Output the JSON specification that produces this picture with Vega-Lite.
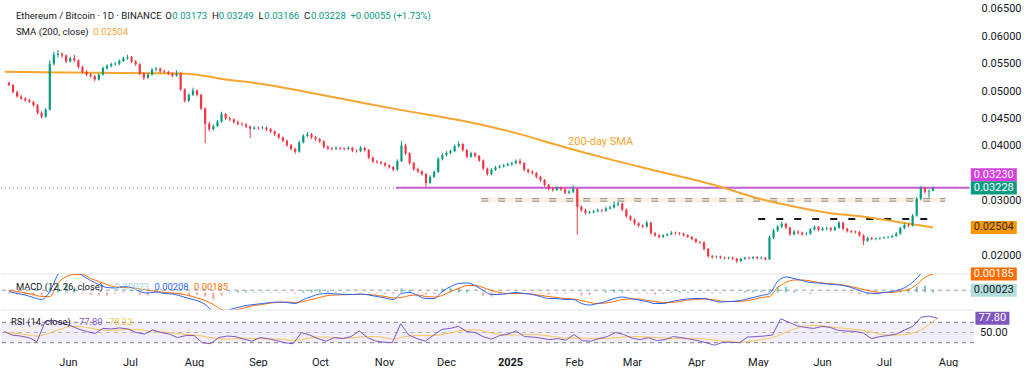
{
"$schema":"https://vega.github.io/schema/vega-lite/v6.json",
"background":"#ffffff",
"padding":0,
"spacing":0,
"bounds":"flush",
"config":{"view":{"stroke":null},"font":"Roboto"},
"datasets":{
"candles":[
{"t":"2024-05-01","o":0.0515,"h":0.0517,"l":0.0509,"c":0.0511},
{"t":"2024-05-03","o":0.0511,"h":0.0513,"l":0.0496,"c":0.0498},
{"t":"2024-05-05","o":0.0498,"h":0.0501,"l":0.0488,"c":0.049},
{"t":"2024-05-07","o":0.049,"h":0.0493,"l":0.0484,"c":0.0486},
{"t":"2024-05-09","o":0.0486,"h":0.0489,"l":0.048,"c":0.0483},
{"t":"2024-05-11","o":0.0483,"h":0.0486,"l":0.0478,"c":0.048},
{"t":"2024-05-13","o":0.048,"h":0.0482,"l":0.0471,"c":0.0474},
{"t":"2024-05-15","o":0.0474,"h":0.0476,"l":0.0457,"c":0.046},
{"t":"2024-05-17","o":0.046,"h":0.0463,"l":0.045,"c":0.0453},
{"t":"2024-05-19","o":0.0453,"h":0.0469,"l":0.0451,"c":0.0466},
{"t":"2024-05-21","o":0.0466,"h":0.0556,"l":0.0464,"c":0.055},
{"t":"2024-05-23","o":0.055,"h":0.0572,"l":0.0546,"c":0.0566},
{"t":"2024-05-25","o":0.0566,"h":0.0575,"l":0.0561,"c":0.0568},
{"t":"2024-05-27","o":0.0568,"h":0.0571,"l":0.056,"c":0.0565},
{"t":"2024-05-29","o":0.0565,"h":0.0567,"l":0.0551,"c":0.0554},
{"t":"2024-05-31","o":0.0554,"h":0.0563,"l":0.0552,"c":0.056},
{"t":"2024-06-02","o":0.056,"h":0.0566,"l":0.0553,"c":0.0556},
{"t":"2024-06-04","o":0.0556,"h":0.0558,"l":0.0541,"c":0.0544},
{"t":"2024-06-06","o":0.0544,"h":0.0546,"l":0.0532,"c":0.0535},
{"t":"2024-06-08","o":0.0535,"h":0.0538,"l":0.0527,"c":0.053},
{"t":"2024-06-10","o":0.053,"h":0.0533,"l":0.0524,"c":0.0527},
{"t":"2024-06-12","o":0.0527,"h":0.0529,"l":0.0518,"c":0.0521},
{"t":"2024-06-14","o":0.0521,"h":0.0532,"l":0.0519,"c":0.053},
{"t":"2024-06-16","o":0.053,"h":0.0545,"l":0.0528,"c":0.0542},
{"t":"2024-06-18","o":0.0542,"h":0.0549,"l":0.0539,"c":0.0546},
{"t":"2024-06-20","o":0.0546,"h":0.0552,"l":0.0543,"c":0.0549},
{"t":"2024-06-22","o":0.0549,"h":0.0553,"l":0.0546,"c":0.055},
{"t":"2024-06-24","o":0.055,"h":0.0558,"l":0.0547,"c":0.0555},
{"t":"2024-06-26","o":0.0555,"h":0.0563,"l":0.0553,"c":0.056},
{"t":"2024-06-28","o":0.056,"h":0.0566,"l":0.0557,"c":0.0562},
{"t":"2024-06-30","o":0.0562,"h":0.0564,"l":0.0551,"c":0.0554},
{"t":"2024-07-02","o":0.0554,"h":0.0557,"l":0.0546,"c":0.0549},
{"t":"2024-07-04","o":0.0549,"h":0.0551,"l":0.0529,"c":0.0532},
{"t":"2024-07-06","o":0.0532,"h":0.0534,"l":0.052,"c":0.0524},
{"t":"2024-07-08","o":0.0524,"h":0.0533,"l":0.0522,"c":0.053},
{"t":"2024-07-10","o":0.053,"h":0.0542,"l":0.0528,"c":0.0539},
{"t":"2024-07-12","o":0.0539,"h":0.0544,"l":0.0536,"c":0.0541},
{"t":"2024-07-14","o":0.0541,"h":0.0543,"l":0.0533,"c":0.0536},
{"t":"2024-07-16","o":0.0536,"h":0.0539,"l":0.0532,"c":0.0535},
{"t":"2024-07-18","o":0.0535,"h":0.0537,"l":0.0529,"c":0.0532},
{"t":"2024-07-20","o":0.0532,"h":0.0534,"l":0.0525,"c":0.0528},
{"t":"2024-07-22","o":0.0528,"h":0.0538,"l":0.0526,"c":0.0532},
{"t":"2024-07-24","o":0.0532,"h":0.0534,"l":0.05,"c":0.0503},
{"t":"2024-07-26","o":0.0503,"h":0.0505,"l":0.0479,"c":0.0482},
{"t":"2024-07-28","o":0.0482,"h":0.0496,"l":0.048,"c":0.0493},
{"t":"2024-07-30","o":0.0493,"h":0.0506,"l":0.0491,"c":0.0501},
{"t":"2024-08-01","o":0.0501,"h":0.0503,"l":0.049,"c":0.0493},
{"t":"2024-08-03","o":0.0493,"h":0.0495,"l":0.0465,"c":0.0468},
{"t":"2024-08-05","o":0.0468,"h":0.047,"l":0.0405,"c":0.044},
{"t":"2024-08-07","o":0.044,"h":0.0444,"l":0.0426,"c":0.043},
{"t":"2024-08-09","o":0.043,"h":0.0439,"l":0.0428,"c":0.0436},
{"t":"2024-08-11","o":0.0436,"h":0.0447,"l":0.0434,"c":0.0444},
{"t":"2024-08-13","o":0.0444,"h":0.0462,"l":0.0442,"c":0.0458},
{"t":"2024-08-15","o":0.0458,"h":0.046,"l":0.0447,"c":0.045},
{"t":"2024-08-17","o":0.045,"h":0.0453,"l":0.0445,"c":0.0448},
{"t":"2024-08-19","o":0.0448,"h":0.045,"l":0.044,"c":0.0443},
{"t":"2024-08-21","o":0.0443,"h":0.0446,"l":0.0437,"c":0.044},
{"t":"2024-08-23","o":0.044,"h":0.0443,"l":0.0436,"c":0.0439},
{"t":"2024-08-25","o":0.0439,"h":0.0441,"l":0.0432,"c":0.0435},
{"t":"2024-08-27","o":0.0435,"h":0.0437,"l":0.0414,"c":0.0431},
{"t":"2024-08-29","o":0.0431,"h":0.0436,"l":0.0429,"c":0.0433},
{"t":"2024-08-31","o":0.0433,"h":0.0435,"l":0.0429,"c":0.0432},
{"t":"2024-09-02","o":0.0432,"h":0.0436,"l":0.043,"c":0.0433},
{"t":"2024-09-04","o":0.0433,"h":0.0435,"l":0.0427,"c":0.043},
{"t":"2024-09-06","o":0.043,"h":0.0432,"l":0.0423,"c":0.0426},
{"t":"2024-09-08","o":0.0426,"h":0.0428,"l":0.0418,"c":0.0421},
{"t":"2024-09-10","o":0.0421,"h":0.0423,"l":0.0412,"c":0.0415},
{"t":"2024-09-12","o":0.0415,"h":0.0417,"l":0.0406,"c":0.0409},
{"t":"2024-09-14","o":0.0409,"h":0.0411,"l":0.0398,"c":0.0401},
{"t":"2024-09-16","o":0.0401,"h":0.0403,"l":0.0391,"c":0.0394},
{"t":"2024-09-18","o":0.0394,"h":0.0396,"l":0.0385,"c":0.0389},
{"t":"2024-09-20","o":0.0389,"h":0.0409,"l":0.0387,"c":0.0406},
{"t":"2024-09-22","o":0.0406,"h":0.0421,"l":0.0404,"c":0.0418},
{"t":"2024-09-24","o":0.0418,"h":0.0425,"l":0.0415,"c":0.0421},
{"t":"2024-09-26","o":0.0421,"h":0.0423,"l":0.0412,"c":0.0415},
{"t":"2024-09-28","o":0.0415,"h":0.0418,"l":0.0409,"c":0.0412},
{"t":"2024-09-30","o":0.0412,"h":0.0414,"l":0.0405,"c":0.0408},
{"t":"2024-10-02","o":0.0408,"h":0.041,"l":0.0395,"c":0.0398},
{"t":"2024-10-04","o":0.0398,"h":0.0401,"l":0.0392,"c":0.0395},
{"t":"2024-10-06","o":0.0395,"h":0.0398,"l":0.0391,"c":0.0394},
{"t":"2024-10-08","o":0.0394,"h":0.0399,"l":0.0392,"c":0.0396},
{"t":"2024-10-10","o":0.0396,"h":0.0398,"l":0.0392,"c":0.0395},
{"t":"2024-10-12","o":0.0395,"h":0.0397,"l":0.0391,"c":0.0394},
{"t":"2024-10-14","o":0.0394,"h":0.0399,"l":0.0392,"c":0.0396},
{"t":"2024-10-16","o":0.0396,"h":0.0398,"l":0.0388,"c":0.0391},
{"t":"2024-10-18","o":0.0391,"h":0.0393,"l":0.0387,"c":0.039},
{"t":"2024-10-20","o":0.039,"h":0.0399,"l":0.0388,"c":0.0396},
{"t":"2024-10-22","o":0.0396,"h":0.0398,"l":0.0389,"c":0.0392},
{"t":"2024-10-24","o":0.0392,"h":0.0394,"l":0.0375,"c":0.0378},
{"t":"2024-10-26","o":0.0378,"h":0.038,"l":0.0368,"c":0.0371},
{"t":"2024-10-28","o":0.0371,"h":0.0374,"l":0.0367,"c":0.037},
{"t":"2024-10-30","o":0.037,"h":0.0372,"l":0.0365,"c":0.0368},
{"t":"2024-11-01","o":0.0368,"h":0.037,"l":0.0361,"c":0.0364},
{"t":"2024-11-03","o":0.0364,"h":0.0366,"l":0.0358,"c":0.0361},
{"t":"2024-11-05","o":0.0361,"h":0.0363,"l":0.0353,"c":0.0356},
{"t":"2024-11-07","o":0.0356,"h":0.0375,"l":0.0354,"c":0.0372},
{"t":"2024-11-09","o":0.0372,"h":0.0409,"l":0.037,"c":0.04},
{"t":"2024-11-11","o":0.04,"h":0.0403,"l":0.0383,"c":0.0386},
{"t":"2024-11-13","o":0.0386,"h":0.0388,"l":0.0365,"c":0.0368},
{"t":"2024-11-15","o":0.0368,"h":0.037,"l":0.0354,"c":0.0357},
{"t":"2024-11-17","o":0.0357,"h":0.036,"l":0.035,"c":0.0353},
{"t":"2024-11-19","o":0.0353,"h":0.0355,"l":0.0345,"c":0.0348},
{"t":"2024-11-21","o":0.0348,"h":0.035,"l":0.0324,"c":0.0332},
{"t":"2024-11-23","o":0.0332,"h":0.0346,"l":0.033,"c":0.0343},
{"t":"2024-11-25","o":0.0343,"h":0.0355,"l":0.0341,"c":0.0352},
{"t":"2024-11-27","o":0.0352,"h":0.0379,"l":0.035,"c":0.0376},
{"t":"2024-11-29","o":0.0376,"h":0.0386,"l":0.0373,"c":0.0383},
{"t":"2024-12-01","o":0.0383,"h":0.039,"l":0.038,"c":0.0387},
{"t":"2024-12-03","o":0.0387,"h":0.0393,"l":0.0384,"c":0.039},
{"t":"2024-12-05","o":0.039,"h":0.0402,"l":0.0388,"c":0.0399},
{"t":"2024-12-07","o":0.0399,"h":0.0408,"l":0.0396,"c":0.0403},
{"t":"2024-12-09","o":0.0403,"h":0.0405,"l":0.0389,"c":0.0392},
{"t":"2024-12-11","o":0.0392,"h":0.0394,"l":0.0377,"c":0.038},
{"t":"2024-12-13","o":0.038,"h":0.0389,"l":0.0378,"c":0.0386},
{"t":"2024-12-15","o":0.0386,"h":0.0388,"l":0.0378,"c":0.0381},
{"t":"2024-12-17","o":0.0381,"h":0.0383,"l":0.037,"c":0.0373},
{"t":"2024-12-19","o":0.0373,"h":0.0375,"l":0.0355,"c":0.0358},
{"t":"2024-12-21","o":0.0358,"h":0.036,"l":0.0345,"c":0.0348},
{"t":"2024-12-23","o":0.0348,"h":0.0359,"l":0.0346,"c":0.0356},
{"t":"2024-12-25","o":0.0356,"h":0.0363,"l":0.0354,"c":0.036},
{"t":"2024-12-27","o":0.036,"h":0.0365,"l":0.0358,"c":0.0362},
{"t":"2024-12-29","o":0.0362,"h":0.0367,"l":0.036,"c":0.0364},
{"t":"2024-12-31","o":0.0364,"h":0.0369,"l":0.0362,"c":0.0366},
{"t":"2025-01-02","o":0.0366,"h":0.0371,"l":0.0363,"c":0.0368},
{"t":"2025-01-04","o":0.0368,"h":0.0375,"l":0.0366,"c":0.0372},
{"t":"2025-01-06","o":0.0372,"h":0.0376,"l":0.0365,"c":0.0368},
{"t":"2025-01-08","o":0.0368,"h":0.037,"l":0.0353,"c":0.0356},
{"t":"2025-01-10","o":0.0356,"h":0.0358,"l":0.0349,"c":0.0352},
{"t":"2025-01-12","o":0.0352,"h":0.0355,"l":0.0347,"c":0.035},
{"t":"2025-01-14","o":0.035,"h":0.0352,"l":0.034,"c":0.0343},
{"t":"2025-01-16","o":0.0343,"h":0.0345,"l":0.0334,"c":0.0337},
{"t":"2025-01-18","o":0.0337,"h":0.0339,"l":0.0325,"c":0.0328},
{"t":"2025-01-20","o":0.0328,"h":0.033,"l":0.0318,"c":0.0321},
{"t":"2025-01-22","o":0.0321,"h":0.0324,"l":0.0316,"c":0.0319},
{"t":"2025-01-24","o":0.0319,"h":0.0326,"l":0.0317,"c":0.0323},
{"t":"2025-01-26","o":0.0323,"h":0.0325,"l":0.0317,"c":0.032},
{"t":"2025-01-28","o":0.032,"h":0.0322,"l":0.0311,"c":0.0314},
{"t":"2025-01-30","o":0.0314,"h":0.0319,"l":0.0311,"c":0.0316},
{"t":"2025-02-01","o":0.0316,"h":0.0328,"l":0.0313,"c":0.0321},
{"t":"2025-02-03","o":0.0321,"h":0.0323,"l":0.0237,"c":0.0288},
{"t":"2025-02-05","o":0.0288,"h":0.0291,"l":0.0279,"c":0.0282},
{"t":"2025-02-07","o":0.0282,"h":0.0285,"l":0.0274,"c":0.0277},
{"t":"2025-02-09","o":0.0277,"h":0.0281,"l":0.0275,"c":0.0278},
{"t":"2025-02-11","o":0.0278,"h":0.0283,"l":0.0276,"c":0.028},
{"t":"2025-02-13","o":0.028,"h":0.0285,"l":0.0278,"c":0.0282},
{"t":"2025-02-15","o":0.0282,"h":0.0284,"l":0.0278,"c":0.0281},
{"t":"2025-02-17","o":0.0281,"h":0.0288,"l":0.0279,"c":0.0285},
{"t":"2025-02-19","o":0.0285,"h":0.029,"l":0.0283,"c":0.0287},
{"t":"2025-02-21","o":0.0287,"h":0.0298,"l":0.0285,"c":0.0292},
{"t":"2025-02-23","o":0.0292,"h":0.0297,"l":0.0289,"c":0.0294},
{"t":"2025-02-25","o":0.0294,"h":0.0296,"l":0.028,"c":0.0283},
{"t":"2025-02-27","o":0.0283,"h":0.0285,"l":0.0268,"c":0.0271},
{"t":"2025-03-01","o":0.0271,"h":0.0273,"l":0.0262,"c":0.0265},
{"t":"2025-03-03","o":0.0265,"h":0.0267,"l":0.0255,"c":0.0258},
{"t":"2025-03-05","o":0.0258,"h":0.026,"l":0.0251,"c":0.0254},
{"t":"2025-03-07","o":0.0254,"h":0.0256,"l":0.0249,"c":0.0252},
{"t":"2025-03-09","o":0.0252,"h":0.0263,"l":0.025,"c":0.0259},
{"t":"2025-03-11","o":0.0259,"h":0.0261,"l":0.0237,"c":0.024},
{"t":"2025-03-13","o":0.024,"h":0.0242,"l":0.0233,"c":0.0236},
{"t":"2025-03-15","o":0.0236,"h":0.0238,"l":0.023,"c":0.0233},
{"t":"2025-03-17","o":0.0233,"h":0.0238,"l":0.0231,"c":0.0236},
{"t":"2025-03-19","o":0.0236,"h":0.024,"l":0.0234,"c":0.0238},
{"t":"2025-03-21","o":0.0238,"h":0.0244,"l":0.0236,"c":0.0241},
{"t":"2025-03-23","o":0.0241,"h":0.0243,"l":0.0237,"c":0.024},
{"t":"2025-03-25","o":0.024,"h":0.0242,"l":0.0236,"c":0.0239},
{"t":"2025-03-27","o":0.0239,"h":0.0241,"l":0.0234,"c":0.0236},
{"t":"2025-03-29","o":0.0236,"h":0.0238,"l":0.0231,"c":0.0233},
{"t":"2025-03-31","o":0.0233,"h":0.0235,"l":0.0227,"c":0.0229},
{"t":"2025-04-02","o":0.0229,"h":0.0231,"l":0.0222,"c":0.0224},
{"t":"2025-04-04","o":0.0224,"h":0.0226,"l":0.022,"c":0.0223},
{"t":"2025-04-06","o":0.0223,"h":0.0225,"l":0.0208,"c":0.0211},
{"t":"2025-04-08","o":0.0211,"h":0.0213,"l":0.0195,"c":0.0198},
{"t":"2025-04-10","o":0.0198,"h":0.02,"l":0.0193,"c":0.0196},
{"t":"2025-04-12","o":0.0196,"h":0.0199,"l":0.0194,"c":0.0197},
{"t":"2025-04-14","o":0.0197,"h":0.0199,"l":0.0193,"c":0.0195},
{"t":"2025-04-16","o":0.0195,"h":0.0197,"l":0.0192,"c":0.0194},
{"t":"2025-04-18","o":0.0194,"h":0.0197,"l":0.0192,"c":0.0195},
{"t":"2025-04-20","o":0.0195,"h":0.0197,"l":0.0191,"c":0.0193},
{"t":"2025-04-22","o":0.0193,"h":0.0195,"l":0.0185,"c":0.0189},
{"t":"2025-04-24","o":0.0189,"h":0.0195,"l":0.0187,"c":0.0193},
{"t":"2025-04-26","o":0.0193,"h":0.0197,"l":0.0191,"c":0.0195},
{"t":"2025-04-28","o":0.0195,"h":0.0197,"l":0.0192,"c":0.0194},
{"t":"2025-04-30","o":0.0194,"h":0.0198,"l":0.0192,"c":0.0196},
{"t":"2025-05-02","o":0.0196,"h":0.0198,"l":0.0192,"c":0.0194},
{"t":"2025-05-04","o":0.0194,"h":0.0197,"l":0.0192,"c":0.0195},
{"t":"2025-05-06","o":0.0195,"h":0.0196,"l":0.019,"c":0.0192},
{"t":"2025-05-08","o":0.0192,"h":0.0235,"l":0.0191,"c":0.0232},
{"t":"2025-05-10","o":0.0232,"h":0.0248,"l":0.0229,"c":0.0245},
{"t":"2025-05-12","o":0.0245,"h":0.0255,"l":0.0242,"c":0.0252},
{"t":"2025-05-14","o":0.0252,"h":0.0261,"l":0.0249,"c":0.0257},
{"t":"2025-05-16","o":0.0257,"h":0.0259,"l":0.0247,"c":0.025},
{"t":"2025-05-18","o":0.025,"h":0.0252,"l":0.0235,"c":0.0238},
{"t":"2025-05-20","o":0.0238,"h":0.0246,"l":0.0236,"c":0.0243},
{"t":"2025-05-22","o":0.0243,"h":0.0245,"l":0.0238,"c":0.0241},
{"t":"2025-05-24","o":0.0241,"h":0.0243,"l":0.0235,"c":0.0238},
{"t":"2025-05-26","o":0.0238,"h":0.0242,"l":0.0236,"c":0.0239},
{"t":"2025-05-28","o":0.0239,"h":0.0249,"l":0.0237,"c":0.0247},
{"t":"2025-05-30","o":0.0247,"h":0.0254,"l":0.0245,"c":0.0251},
{"t":"2025-06-01","o":0.0251,"h":0.0253,"l":0.0243,"c":0.0246},
{"t":"2025-06-03","o":0.0246,"h":0.0251,"l":0.0244,"c":0.0248},
{"t":"2025-06-05","o":0.0248,"h":0.0252,"l":0.0245,"c":0.0249},
{"t":"2025-06-07","o":0.0249,"h":0.0251,"l":0.0243,"c":0.0246},
{"t":"2025-06-09","o":0.0246,"h":0.0253,"l":0.0244,"c":0.025},
{"t":"2025-06-11","o":0.025,"h":0.0262,"l":0.0248,"c":0.0259},
{"t":"2025-06-13","o":0.0259,"h":0.0261,"l":0.0245,"c":0.0248},
{"t":"2025-06-15","o":0.0248,"h":0.025,"l":0.0241,"c":0.0244},
{"t":"2025-06-17","o":0.0244,"h":0.0246,"l":0.024,"c":0.0243},
{"t":"2025-06-19","o":0.0243,"h":0.0245,"l":0.0239,"c":0.0242},
{"t":"2025-06-21","o":0.0242,"h":0.0244,"l":0.0233,"c":0.0236},
{"t":"2025-06-23","o":0.0236,"h":0.0238,"l":0.0218,"c":0.0226},
{"t":"2025-06-25","o":0.0226,"h":0.0234,"l":0.0224,"c":0.0231},
{"t":"2025-06-27","o":0.0231,"h":0.0233,"l":0.0227,"c":0.0229},
{"t":"2025-06-29","o":0.0229,"h":0.0232,"l":0.0227,"c":0.023},
{"t":"2025-07-01","o":0.023,"h":0.0233,"l":0.0228,"c":0.0231},
{"t":"2025-07-03","o":0.0231,"h":0.0234,"l":0.0229,"c":0.0232},
{"t":"2025-07-05","o":0.0232,"h":0.0235,"l":0.023,"c":0.0233},
{"t":"2025-07-07","o":0.0233,"h":0.0237,"l":0.0231,"c":0.0235},
{"t":"2025-07-09","o":0.0235,"h":0.0242,"l":0.0233,"c":0.0239},
{"t":"2025-07-11","o":0.0239,"h":0.0252,"l":0.0237,"c":0.0249},
{"t":"2025-07-13","o":0.0249,"h":0.0258,"l":0.0247,"c":0.0255},
{"t":"2025-07-15","o":0.0255,"h":0.0258,"l":0.0251,"c":0.0254},
{"t":"2025-07-17","o":0.0254,"h":0.0275,"l":0.0252,"c":0.0272},
{"t":"2025-07-19","o":0.0272,"h":0.0306,"l":0.027,"c":0.0303},
{"t":"2025-07-21","o":0.0303,"h":0.0326,"l":0.03,"c":0.0323},
{"t":"2025-07-23","o":0.0323,"h":0.0325,"l":0.0312,"c":0.0316},
{"t":"2025-07-25","o":0.0316,"h":0.032,"l":0.0305,"c":0.0317},
{"t":"2025-07-27","o":0.03173,"h":0.03249,"l":0.03166,"c":0.03228}
],
"sma":[
{"t":"2024-04-29","v":0.0535},{"t":"2024-05-28","v":0.0534},{"t":"2024-06-26","v":0.0533},{"t":"2024-07-25","v":0.0532},{"t":"2024-08-04","v":0.0528},{"t":"2024-08-12","v":0.0523},{"t":"2024-09-05","v":0.0511},{"t":"2024-09-21","v":0.05},{"t":"2024-10-16","v":0.0482},{"t":"2024-11-09","v":0.0465},{"t":"2024-12-07","v":0.0447},{"t":"2025-01-04","v":0.0423},{"t":"2025-01-27","v":0.0398},{"t":"2025-02-20","v":0.0374},{"t":"2025-03-16","v":0.0352},{"t":"2025-04-11","v":0.0328},{"t":"2025-05-05","v":0.0301},{"t":"2025-05-21","v":0.0288},{"t":"2025-06-06","v":0.0277},{"t":"2025-06-23","v":0.027},{"t":"2025-07-09","v":0.0261},{"t":"2025-07-27","v":0.02504}
],
"ind":[
{"t":"2024-05-01","m":0.0001,"s":0.0002,"h":-0.0001,"r":52,"rm":50},
{"t":"2024-05-05","m":-0.0001,"s":0.0001,"h":-0.0002,"r":45,"rm":49},
{"t":"2024-05-09","m":-0.00025,"s":-0.00005,"h":-0.0002,"r":43,"rm":47},
{"t":"2024-05-13","m":-0.0005,"s":-0.0002,"h":-0.0003,"r":40,"rm":45},
{"t":"2024-05-17","m":-0.0007,"s":-0.0004,"h":-0.0003,"r":32,"rm":43},
{"t":"2024-05-21","m":0.0001,"s":-0.0004,"h":0.0005,"r":72,"rm":46},
{"t":"2024-05-25","m":0.0018,"s":0.0009,"h":0.0009,"r":74,"rm":52},
{"t":"2024-05-29","m":0.0025,"s":0.0016,"h":0.0009,"r":68,"rm":57},
{"t":"2024-06-02","m":0.0023,"s":0.0018,"h":0.0005,"r":64,"rm":62},
{"t":"2024-06-06","m":0.0017,"s":0.0018,"h":-0.0001,"r":57,"rm":62},
{"t":"2024-06-10","m":0.0012,"s":0.0014,"h":-0.0002,"r":52,"rm":60},
{"t":"2024-06-14","m":0.0008,"s":0.0011,"h":-0.0003,"r":48,"rm":57},
{"t":"2024-06-18","m":0.0005,"s":0.0008,"h":-0.0003,"r":58,"rm":55},
{"t":"2024-06-22","m":0.00045,"s":0.00055,"h":-0.0001,"r":57,"rm":54},
{"t":"2024-06-26","m":0.0006,"s":0.0005,"h":0.0001,"r":59,"rm":55},
{"t":"2024-06-30","m":0.0005,"s":0.00048,"h":0.00002,"r":57,"rm":56},
{"t":"2024-07-04","m":0.0001,"s":0.00035,"h":-0.00025,"r":50,"rm":56},
{"t":"2024-07-08","m":-0.00005,"s":0.00025,"h":-0.0003,"r":47,"rm":54},
{"t":"2024-07-12","m":0.00005,"s":0.0001,"h":-0.00005,"r":55,"rm":52},
{"t":"2024-07-16","m":-0.0001,"s":0,"h":-0.0001,"r":50,"rm":51},
{"t":"2024-07-20","m":-0.00015,"s":-0.00005,"h":-0.0001,"r":47,"rm":50},
{"t":"2024-07-24","m":-0.00035,"s":-0.00015,"h":-0.0002,"r":40,"rm":48},
{"t":"2024-07-28","m":-0.0006,"s":-0.0003,"h":-0.0003,"r":44,"rm":46},
{"t":"2024-08-01","m":-0.0008,"s":-0.00055,"h":-0.00025,"r":44,"rm":45},
{"t":"2024-08-05","m":-0.0012,"s":-0.0008,"h":-0.0004,"r":30,"rm":43},
{"t":"2024-08-09","m":-0.0019,"s":-0.0012,"h":-0.0007,"r":28,"rm":40},
{"t":"2024-08-13","m":-0.002,"s":-0.0017,"h":-0.0003,"r":40,"rm":38},
{"t":"2024-08-17","m":-0.0017,"s":-0.0018,"h":0.0001,"r":43,"rm":37},
{"t":"2024-08-21","m":-0.0015,"s":-0.0017,"h":0.0002,"r":42,"rm":38},
{"t":"2024-08-25","m":-0.0013,"s":-0.0015,"h":0.0002,"r":37,"rm":39},
{"t":"2024-08-29","m":-0.0012,"s":-0.0013,"h":0.0001,"r":33,"rm":38},
{"t":"2024-09-02","m":-0.0011,"s":-0.0012,"h":0.0001,"r":40,"rm":38},
{"t":"2024-09-06","m":-0.001,"s":-0.00105,"h":0.00005,"r":38,"rm":37},
{"t":"2024-09-10","m":-0.00095,"s":-0.001,"h":0.00005,"r":34,"rm":37},
{"t":"2024-09-14","m":-0.001,"s":-0.00095,"h":-0.00005,"r":30,"rm":36},
{"t":"2024-09-18","m":-0.0011,"s":-0.001,"h":-0.0001,"r":28,"rm":34},
{"t":"2024-09-22","m":-0.0007,"s":-0.0009,"h":0.0002,"r":50,"rm":36},
{"t":"2024-09-26","m":-0.0004,"s":-0.0007,"h":0.0003,"r":45,"rm":39},
{"t":"2024-09-30","m":-0.00015,"s":-0.0005,"h":0.00035,"r":38,"rm":41},
{"t":"2024-10-04","m":-0.0001,"s":-0.0003,"h":0.0002,"r":33,"rm":41},
{"t":"2024-10-08","m":-0.00015,"s":-0.00025,"h":0.0001,"r":40,"rm":40},
{"t":"2024-10-12","m":-0.00018,"s":-0.00022,"h":0.00004,"r":38,"rm":39},
{"t":"2024-10-16","m":-0.0002,"s":-0.0002,"h":0,"r":42,"rm":39},
{"t":"2024-10-20","m":-0.00015,"s":-0.0002,"h":0.00005,"r":53,"rm":41},
{"t":"2024-10-24","m":-0.00025,"s":-0.0002,"h":-0.00005,"r":40,"rm":42},
{"t":"2024-10-28","m":-0.0004,"s":-0.0003,"h":-0.0001,"r":33,"rm":42},
{"t":"2024-11-01","m":-0.00055,"s":-0.0004,"h":-0.00015,"r":31,"rm":40},
{"t":"2024-11-05","m":-0.0007,"s":-0.00055,"h":-0.00015,"r":30,"rm":37},
{"t":"2024-11-09","m":-0.0001,"s":-0.0005,"h":0.0004,"r":67,"rm":40},
{"t":"2024-11-13","m":0,"s":-0.0003,"h":0.0003,"r":45,"rm":43},
{"t":"2024-11-17","m":-0.0003,"s":-0.00025,"h":-0.00005,"r":38,"rm":44},
{"t":"2024-11-21","m":-0.0006,"s":-0.0004,"h":-0.0002,"r":33,"rm":44},
{"t":"2024-11-25","m":-0.0006,"s":-0.00045,"h":-0.00015,"r":45,"rm":44},
{"t":"2024-11-29","m":0.0001,"s":-0.0003,"h":0.0004,"r":56,"rm":46},
{"t":"2024-12-03","m":0.0006,"s":0.0001,"h":0.0005,"r":58,"rm":49},
{"t":"2024-12-07","m":0.0009,"s":0.0004,"h":0.0005,"r":62,"rm":53},
{"t":"2024-12-11","m":0.00095,"s":0.0007,"h":0.00025,"r":52,"rm":55},
{"t":"2024-12-15","m":0.0007,"s":0.0007,"h":0,"r":50,"rm":55},
{"t":"2024-12-19","m":0.0002,"s":0.0005,"h":-0.0003,"r":42,"rm":53},
{"t":"2024-12-23","m":-0.0002,"s":0.0002,"h":-0.0004,"r":37,"rm":49},
{"t":"2024-12-27","m":-0.0002,"s":0,"h":-0.0002,"r":44,"rm":46},
{"t":"2024-12-31","m":-0.0001,"s":-0.0001,"h":0,"r":47,"rm":45},
{"t":"2025-01-04","m":0,"s":-0.0001,"h":0.0001,"r":53,"rm":45},
{"t":"2025-01-08","m":-0.0001,"s":-0.0001,"h":0,"r":42,"rm":46},
{"t":"2025-01-12","m":-0.0002,"s":-0.00015,"h":-0.00005,"r":41,"rm":46},
{"t":"2025-01-16","m":-0.0004,"s":-0.0003,"h":-0.0001,"r":39,"rm":45},
{"t":"2025-01-20","m":-0.0006,"s":-0.0004,"h":-0.0002,"r":36,"rm":43},
{"t":"2025-01-24","m":-0.0006,"s":-0.0005,"h":-0.0001,"r":38,"rm":41},
{"t":"2025-01-28","m":-0.0007,"s":-0.0006,"h":-0.0001,"r":35,"rm":39},
{"t":"2025-02-01","m":-0.0007,"s":-0.00065,"h":-0.00005,"r":46,"rm":39},
{"t":"2025-02-05","m":-0.0011,"s":-0.0008,"h":-0.0003,"r":34,"rm":39},
{"t":"2025-02-09","m":-0.00125,"s":-0.001,"h":-0.00025,"r":33,"rm":38},
{"t":"2025-02-13","m":-0.0011,"s":-0.0011,"h":0,"r":38,"rm":38},
{"t":"2025-02-17","m":-0.0009,"s":-0.00105,"h":0.00015,"r":42,"rm":38},
{"t":"2025-02-21","m":-0.0006,"s":-0.0009,"h":0.0003,"r":50,"rm":40},
{"t":"2025-02-25","m":-0.00045,"s":-0.0007,"h":0.00025,"r":46,"rm":41},
{"t":"2025-03-01","m":-0.0006,"s":-0.00065,"h":0.00005,"r":39,"rm":42},
{"t":"2025-03-05","m":-0.00075,"s":-0.00065,"h":-0.0001,"r":36,"rm":42},
{"t":"2025-03-09","m":-0.0009,"s":-0.0008,"h":-0.0001,"r":40,"rm":41},
{"t":"2025-03-13","m":-0.0011,"s":-0.0009,"h":-0.0002,"r":34,"rm":40},
{"t":"2025-03-17","m":-0.0011,"s":-0.001,"h":-0.0001,"r":36,"rm":39},
{"t":"2025-03-21","m":-0.0009,"s":-0.001,"h":0.0001,"r":42,"rm":38},
{"t":"2025-03-25","m":-0.00075,"s":-0.0009,"h":0.00015,"r":40,"rm":38},
{"t":"2025-03-29","m":-0.00065,"s":-0.00075,"h":0.0001,"r":37,"rm":38},
{"t":"2025-04-02","m":-0.0006,"s":-0.0007,"h":0.0001,"r":34,"rm":38},
{"t":"2025-04-06","m":-0.0006,"s":-0.00065,"h":0.00005,"r":30,"rm":37},
{"t":"2025-04-10","m":-0.0008,"s":-0.0007,"h":-0.0001,"r":25,"rm":35},
{"t":"2025-04-14","m":-0.00095,"s":-0.00085,"h":-0.0001,"r":31,"rm":33},
{"t":"2025-04-18","m":-0.0009,"s":-0.0009,"h":0,"r":31,"rm":32},
{"t":"2025-04-22","m":-0.00085,"s":-0.0009,"h":0.00005,"r":30,"rm":31},
{"t":"2025-04-26","m":-0.0007,"s":-0.00085,"h":0.00015,"r":41,"rm":32},
{"t":"2025-04-30","m":-0.0005,"s":-0.0007,"h":0.0002,"r":42,"rm":34},
{"t":"2025-05-04","m":-0.0003,"s":-0.0005,"h":0.0002,"r":43,"rm":37},
{"t":"2025-05-08","m":-0.0001,"s":-0.0004,"h":0.0003,"r":45,"rm":40},
{"t":"2025-05-12","m":0.0011,"s":0.0005,"h":0.0006,"r":77,"rm":46},
{"t":"2025-05-16","m":0.00155,"s":0.001,"h":0.00055,"r":70,"rm":53},
{"t":"2025-05-20","m":0.0014,"s":0.00125,"h":0.00015,"r":63,"rm":59},
{"t":"2025-05-24","m":0.0012,"s":0.00125,"h":-0.00005,"r":60,"rm":63},
{"t":"2025-05-28","m":0.001,"s":0.00115,"h":-0.00015,"r":58,"rm":64},
{"t":"2025-06-01","m":0.00095,"s":0.001,"h":-0.00005,"r":62,"rm":63},
{"t":"2025-06-05","m":0.00085,"s":0.0009,"h":-0.00005,"r":60,"rm":61},
{"t":"2025-06-09","m":0.0008,"s":0.00085,"h":-0.00005,"r":54,"rm":59},
{"t":"2025-06-13","m":0.0007,"s":0.00075,"h":-0.00005,"r":53,"rm":58},
{"t":"2025-06-17","m":0.0005,"s":0.0006,"h":-0.0001,"r":52,"rm":56},
{"t":"2025-06-21","m":0.0002,"s":0.0004,"h":-0.0002,"r":49,"rm":54},
{"t":"2025-06-25","m":-0.00005,"s":0.0002,"h":-0.00025,"r":38,"rm":51},
{"t":"2025-06-29","m":-0.0001,"s":0.00005,"h":-0.00015,"r":42,"rm":47},
{"t":"2025-07-03","m":0,"s":0,"h":0,"r":44,"rm":45},
{"t":"2025-07-07","m":0.0001,"s":0,"h":0.0001,"r":47,"rm":45},
{"t":"2025-07-11","m":0.0003,"s":0.00015,"h":0.00015,"r":55,"rm":46},
{"t":"2025-07-15","m":0.0007,"s":0.0003,"h":0.0004,"r":62,"rm":49},
{"t":"2025-07-19","m":0.0014,"s":0.0008,"h":0.0006,"r":80,"rm":55},
{"t":"2025-07-23","m":0.0022,"s":0.0015,"h":0.0007,"r":82,"rm":66},
{"t":"2025-07-27","m":0.00208,"s":0.00185,"h":0.00023,"r":77.8,"rm":78.23}
]
},
"vconcat":[
{
"width":973,"height":274,
"resolve":{"axis":{"y":"independent"}},
"layer":[
{"data":{"values":[{}]},"mark":{"type":"rect","color":"#fdf0df"},
 "encoding":{
  "x":{"datum":{"year":2024,"month":12,"date":18},"type":"temporal","scale":{"domain":[{"year":2024,"month":4,"date":29,"hours":14},{"year":2025,"month":8,"date":13,"hours":14}]},"axis":null},
  "x2":{"datum":{"year":2025,"month":8,"date":2}},
  "y":{"datum":0.0305,"type":"quantitative","scale":{"domain":[0.016527,0.066646],"nice":false,"zero":false},"axis":{"orient":"right","values":[0.02,0.03,0.04,0.045,0.05,0.055,0.06,0.065],"format":".5f","domain":false,"ticks":false,"grid":false,"labelPadding":7,"labelFontSize":11,"labelColor":"#131722","labelFont":"Roboto","labelOverlap":false,"labelFlush":false,"labelBound":false,"labelSeparation":0,"title":null}},
  "y2":{"datum":0.0296}}},
{"data":{"values":[{}]},"mark":{"type":"rule","color":"#9a9a9a","strokeWidth":1.3,"strokeDash":[7,10]},
 "encoding":{"x":{"datum":{"year":2024,"month":12,"date":18},"type":"temporal","axis":null},"x2":{"datum":{"year":2025,"month":8,"date":2}},"y":{"datum":0.0303,"type":"quantitative","axis":null}}},
{"data":{"values":[{}]},"mark":{"type":"rule","color":"#9a9a9a","strokeWidth":1.3,"strokeDash":[7,10]},
 "encoding":{"x":{"datum":{"year":2024,"month":12,"date":18},"type":"temporal","axis":null},"x2":{"datum":{"year":2025,"month":8,"date":2}},"y":{"datum":0.02985,"type":"quantitative","axis":null}}},
{"data":{"values":[{}]},"mark":{"type":"rule","color":"#131722","strokeWidth":2,"strokeDash":[7,11]},
 "encoding":{"x":{"datum":{"year":2025,"month":5,"date":2,"hours":12},"type":"temporal","axis":null},"x2":{"datum":{"year":2025,"month":7,"date":24,"hours":19}},"y":{"datum":0.0266,"type":"quantitative","axis":null}}},
{"data":{"values":[{}]},"mark":{"type":"rule","color":"#6f8f8c","strokeWidth":1,"strokeDash":[1,3]},
 "encoding":{"y":{"datum":0.03228,"type":"quantitative","axis":null}}},
{"data":{"values":[{}]},"mark":{"type":"rule","color":"#c45ecf","strokeWidth":2},
 "encoding":{"x":{"datum":{"year":2024,"month":11,"date":6,"hours":7},"type":"temporal","axis":null},"x2":{"datum":{"year":2025,"month":8,"date":13,"hours":14}},"y":{"datum":0.0323,"type":"quantitative","axis":null}}},
{"data":{"name":"sma"},"mark":{"type":"line","color":"#f5a530","strokeWidth":2,"clip":true,"interpolate":"monotone"},
 "encoding":{"x":{"field":"t","type":"temporal","axis":null},"y":{"field":"v","type":"quantitative","axis":null}}},
{"data":{"name":"candles"},"mark":{"type":"rule","strokeWidth":1,"clip":true},
 "encoding":{"x":{"field":"t","type":"temporal","axis":null},"y":{"field":"l","type":"quantitative","axis":null},"y2":{"field":"h"},
  "color":{"condition":{"test":"datum.c >= datum.o","value":"#089981"},"value":"#f23645"}}},
{"data":{"name":"candles"},"mark":{"type":"bar","width":2.2,"clip":true},
 "encoding":{"x":{"field":"t","type":"temporal","axis":null},"y":{"field":"o","type":"quantitative","axis":null},"y2":{"field":"c"},
  "color":{"condition":{"test":"datum.c >= datum.o","value":"#089981"},"value":"#f23645"}}},
{"data":{"values":[{}]},"mark":{"type":"text","text":"200-day SMA","align":"left","baseline":"middle","fontSize":11,"color":"#f5a530"},
 "encoding":{"x":{"datum":{"year":2025,"month":1,"date":29,"hours":12},"type":"temporal","axis":null},"y":{"datum":0.04067,"type":"quantitative","axis":null}}},
{"data":{"values":[{}]},"mark":{"type":"text","text":"Ethereum / Bitcoin · 1D · BINANCE","align":"left","baseline":"middle","fontSize":9.6,"color":"#131722"},
 "encoding":{"x":{"datum":{"year":2024,"month":5,"date":4,"hours":10},"type":"temporal","axis":null},"y":{"datum":0.06372,"type":"quantitative","axis":null}}},
{"data":{"values":[{}]},"mark":{"type":"text","text":"O","align":"left","baseline":"middle","fontSize":9.6,"color":"#131722"},
 "encoding":{"x":{"datum":{"year":2024,"month":7,"date":16,"hours":12},"type":"temporal","axis":null},"y":{"datum":0.06372,"type":"quantitative","axis":null}}},
{"data":{"values":[{}]},"mark":{"type":"text","text":"0.03173","align":"left","baseline":"middle","fontSize":9.6,"color":"#089981"},
 "encoding":{"x":{"datum":{"year":2024,"month":7,"date":19,"hours":22},"type":"temporal","axis":null},"y":{"datum":0.06372,"type":"quantitative","axis":null}}},
{"data":{"values":[{}]},"mark":{"type":"text","text":"H","align":"left","baseline":"middle","fontSize":9.6,"color":"#131722"},
 "encoding":{"x":{"datum":{"year":2024,"month":8,"date":8,"hours":7},"type":"temporal","axis":null},"y":{"datum":0.06372,"type":"quantitative","axis":null}}},
{"data":{"values":[{}]},"mark":{"type":"text","text":"0.03249","align":"left","baseline":"middle","fontSize":9.6,"color":"#089981"},
 "encoding":{"x":{"datum":{"year":2024,"month":8,"date":11,"hours":16},"type":"temporal","axis":null},"y":{"datum":0.06372,"type":"quantitative","axis":null}}},
{"data":{"values":[{}]},"mark":{"type":"text","text":"L","align":"left","baseline":"middle","fontSize":9.6,"color":"#131722"},
 "encoding":{"x":{"datum":{"year":2024,"month":8,"date":31,"hours":1},"type":"temporal","axis":null},"y":{"datum":0.06372,"type":"quantitative","axis":null}}},
{"data":{"values":[{}]},"mark":{"type":"text","text":"0.03166","align":"left","baseline":"middle","fontSize":9.6,"color":"#089981"},
 "encoding":{"x":{"datum":{"year":2024,"month":9,"date":2,"hours":22},"type":"temporal","axis":null},"y":{"datum":0.06372,"type":"quantitative","axis":null}}},
{"data":{"values":[{}]},"mark":{"type":"text","text":"C","align":"left","baseline":"middle","fontSize":9.6,"color":"#131722"},
 "encoding":{"x":{"datum":{"year":2024,"month":9,"date":22,"hours":7},"type":"temporal","axis":null},"y":{"datum":0.06372,"type":"quantitative","axis":null}}},
{"data":{"values":[{}]},"mark":{"type":"text","text":"0.03228","align":"left","baseline":"middle","fontSize":9.6,"color":"#089981"},
 "encoding":{"x":{"datum":{"year":2024,"month":9,"date":25,"hours":17},"type":"temporal","axis":null},"y":{"datum":0.06372,"type":"quantitative","axis":null}}},
{"data":{"values":[{}]},"mark":{"type":"text","text":"+0.00055 (+1.73%)","align":"left","baseline":"middle","fontSize":9.6,"color":"#089981"},
 "encoding":{"x":{"datum":{"year":2024,"month":10,"date":15,"hours":1},"type":"temporal","axis":null},"y":{"datum":0.06372,"type":"quantitative","axis":null}}},
{"data":{"values":[{}]},"mark":{"type":"text","text":"SMA (200, close)","align":"left","baseline":"middle","fontSize":9.6,"color":"#131722"},
 "encoding":{"x":{"datum":{"year":2024,"month":5,"date":4,"hours":10},"type":"temporal","axis":null},"y":{"datum":0.06079,"type":"quantitative","axis":null}}},
{"data":{"values":[{}]},"mark":{"type":"text","text":"0.02504","align":"left","baseline":"middle","fontSize":9.6,"color":"#f5a530"},
 "encoding":{"x":{"datum":{"year":2024,"month":6,"date":11,"hours":5},"type":"temporal","axis":null},"y":{"datum":0.06079,"type":"quantitative","axis":null}}},
{"data":{"values":[{}]},"mark":{"type":"point","shape":"M-1,-0.283L1,-0.283L1,0.283L-1,0.283Z","filled":true,"size":2116,"color":"#d63fe0","opacity":1,"yOffset":-13},
 "encoding":{"x":{"datum":{"year":2025,"month":8,"date":25,"hours":17},"type":"temporal","axis":null},"y":{"datum":0.0323,"type":"quantitative","axis":null}}},
{"data":{"values":[{}]},"mark":{"type":"text","text":"0.03230","align":"center","baseline":"middle","fontSize":11,"color":"#ffffff","yOffset":-13},
 "encoding":{"x":{"datum":{"year":2025,"month":8,"date":25,"hours":17},"type":"temporal","axis":null},"y":{"datum":0.0323,"type":"quantitative","axis":null}}},
{"data":{"values":[{}]},"mark":{"type":"point","shape":"M-1,-0.283L1,-0.283L1,0.283L-1,0.283Z","filled":true,"size":2116,"color":"#089981","opacity":1},
 "encoding":{"x":{"datum":{"year":2025,"month":8,"date":25,"hours":17},"type":"temporal","axis":null},"y":{"datum":0.03228,"type":"quantitative","axis":null}}},
{"data":{"values":[{}]},"mark":{"type":"text","text":"0.03228","align":"center","baseline":"middle","fontSize":11,"color":"#ffffff"},
 "encoding":{"x":{"datum":{"year":2025,"month":8,"date":25,"hours":17},"type":"temporal","axis":null},"y":{"datum":0.03228,"type":"quantitative","axis":null}}},
{"data":{"values":[{}]},"mark":{"type":"point","shape":"M-1,-0.283L1,-0.283L1,0.283L-1,0.283Z","filled":true,"size":2116,"color":"#ff9800","opacity":1},
 "encoding":{"x":{"datum":{"year":2025,"month":8,"date":25,"hours":17},"type":"temporal","axis":null},"y":{"datum":0.02504,"type":"quantitative","axis":null}}},
{"data":{"values":[{}]},"mark":{"type":"text","text":"0.02504","align":"center","baseline":"middle","fontSize":11,"color":"#2a2e39"},
 "encoding":{"x":{"datum":{"year":2025,"month":8,"date":25,"hours":17},"type":"temporal","axis":null},"y":{"datum":0.02504,"type":"quantitative","axis":null}}}
]
},
{
"width":973,"height":36,
"layer":[
{"data":{"values":[{}]},"mark":{"type":"rule","color":"#e0e3eb","strokeWidth":1},
 "encoding":{"y":{"datum":0.00185,"type":"quantitative","scale":{"domain":[-0.00175,0.00185],"nice":false,"zero":false},"axis":null}}},
{"data":{"name":"ind"},"mark":{"type":"bar","width":2.2,"clip":true},
 "encoding":{"x":{"field":"t","type":"temporal","scale":{"domain":[{"year":2024,"month":4,"date":29,"hours":14},{"year":2025,"month":8,"date":13,"hours":14}]},"axis":null},
  "y":{"field":"h","type":"quantitative","axis":null},"y2":{"datum":0},
  "color":{"condition":{"test":"datum.h >= 0","value":"#7fcdc4"},"value":"#f7a7ab"}}},
{"data":{"values":[{}]},"mark":{"type":"rule","color":"#9598a1","strokeWidth":1,"strokeDash":[4,4]},
 "encoding":{"y":{"datum":0.00023,"type":"quantitative","axis":null}}},
{"data":{"name":"ind"},"mark":{"type":"line","color":"#ff6d00","strokeWidth":1,"clip":true,"interpolate":"monotone"},
 "encoding":{"x":{"field":"t","type":"temporal","axis":null},"y":{"field":"s","type":"quantitative","axis":null}}},
{"data":{"name":"ind"},"mark":{"type":"line","color":"#2962ff","strokeWidth":1,"clip":true,"interpolate":"monotone"},
 "encoding":{"x":{"field":"t","type":"temporal","axis":null},"y":{"field":"m","type":"quantitative","axis":null}}},
{"data":{"values":[{}]},"mark":{"type":"text","text":"MACD (12, 26, close)","align":"left","baseline":"middle","fontSize":9.4,"color":"#131722"},
 "encoding":{"x":{"datum":{"year":2024,"month":5,"date":4,"hours":10},"type":"temporal","axis":null},"y":{"datum":0.00055,"type":"quantitative","axis":null}}},
{"data":{"values":[{}]},"mark":{"type":"text","text":"0.00023","align":"left","baseline":"middle","fontSize":9.4,"color":"#9fd6cf"},
 "encoding":{"x":{"datum":{"year":2024,"month":6,"date":21,"hours":20},"type":"temporal","axis":null},"y":{"datum":0.00055,"type":"quantitative","axis":null}}},
{"data":{"values":[{}]},"mark":{"type":"text","text":"0.00208","align":"left","baseline":"middle","fontSize":9.4,"color":"#2962ff"},
 "encoding":{"x":{"datum":{"year":2024,"month":7,"date":11,"hours":5},"type":"temporal","axis":null},"y":{"datum":0.00055,"type":"quantitative","axis":null}}},
{"data":{"values":[{}]},"mark":{"type":"text","text":"0.00185","align":"left","baseline":"middle","fontSize":9.4,"color":"#ff6d00"},
 "encoding":{"x":{"datum":{"year":2024,"month":7,"date":30,"hours":13},"type":"temporal","axis":null},"y":{"datum":0.00055,"type":"quantitative","axis":null}}},
{"data":{"values":[{}]},"mark":{"type":"point","shape":"M-1,-0.283L1,-0.283L1,0.283L-1,0.283Z","filled":true,"size":2116,"color":"#ff6d00","opacity":1},
 "encoding":{"x":{"datum":{"year":2025,"month":8,"date":25,"hours":17},"type":"temporal","axis":null},"y":{"datum":0.00185,"type":"quantitative","axis":null}}},
{"data":{"values":[{}]},"mark":{"type":"text","text":"0.00185","align":"center","baseline":"middle","fontSize":11,"color":"#ffffff"},
 "encoding":{"x":{"datum":{"year":2025,"month":8,"date":25,"hours":17},"type":"temporal","axis":null},"y":{"datum":0.00185,"type":"quantitative","axis":null}}},
{"data":{"values":[{}]},"mark":{"type":"point","shape":"M-1,-0.283L1,-0.283L1,0.283L-1,0.283Z","filled":true,"size":2116,"color":"#b2dfdb","opacity":1},
 "encoding":{"x":{"datum":{"year":2025,"month":8,"date":25,"hours":17},"type":"temporal","axis":null},"y":{"datum":0.00023,"type":"quantitative","axis":null}}},
{"data":{"values":[{}]},"mark":{"type":"text","text":"0.00023","align":"center","baseline":"middle","fontSize":11,"color":"#131722"},
 "encoding":{"x":{"datum":{"year":2025,"month":8,"date":25,"hours":17},"type":"temporal","axis":null},"y":{"datum":0.00023,"type":"quantitative","axis":null}}}
]
},
{
"width":973,"height":40,
"layer":[
{"data":{"values":[{}]},"mark":{"type":"rect","color":"#7e57c2","opacity":0.1},
 "encoding":{
  "x":{"datum":{"year":2024,"month":4,"date":29,"hours":14},"type":"temporal","scale":{"domain":[{"year":2024,"month":4,"date":29,"hours":14},{"year":2025,"month":8,"date":13,"hours":14}]},
   "axis":{"values":[{"year":2024,"month":6,"date":1},{"year":2024,"month":7,"date":1},{"year":2024,"month":8,"date":1},{"year":2024,"month":9,"date":1},{"year":2024,"month":10,"date":1},{"year":2024,"month":11,"date":1},{"year":2024,"month":12,"date":1},{"year":2025,"month":1,"date":1},{"year":2025,"month":2,"date":1},{"year":2025,"month":3,"date":1},{"year":2025,"month":4,"date":1},{"year":2025,"month":5,"date":1},{"year":2025,"month":6,"date":1},{"year":2025,"month":7,"date":1},{"year":2025,"month":8,"date":1}],
    "labelExpr":"month(datum.value) == 0 ? timeFormat(datum.value, '%Y') : timeFormat(datum.value, '%b')",
    "labelFontWeight":{"condition":{"test":"month(datum.value) == 0","value":"bold"},"value":"normal"},
    "domain":false,"ticks":false,"grid":false,"labelPadding":6,"labelFontSize":11,"labelColor":"#131722","labelFont":"Roboto","labelFlush":false,"labelOverlap":false,"title":null}},
  "x2":{"datum":{"year":2025,"month":8,"date":13,"hours":14}},
  "y":{"datum":70,"type":"quantitative","scale":{"domain":[15.7,94.1],"nice":false,"zero":false},"axis":null},
  "y2":{"datum":30}}},
{"data":{"values":[{}]},"mark":{"type":"rule","color":"#e0e3eb","strokeWidth":1},
 "encoding":{"y":{"datum":94.1,"type":"quantitative","axis":null}}},
{"data":{"values":[{}]},"mark":{"type":"rule","color":"#787b86","strokeWidth":1,"strokeDash":[4,4]},
 "encoding":{"y":{"datum":70,"type":"quantitative","axis":null}}},
{"data":{"values":[{}]},"mark":{"type":"rule","color":"#b2b5be","strokeWidth":1,"strokeDash":[4,4]},
 "encoding":{"y":{"datum":50,"type":"quantitative","axis":null}}},
{"data":{"values":[{}]},"mark":{"type":"rule","color":"#787b86","strokeWidth":1,"strokeDash":[4,4]},
 "encoding":{"y":{"datum":30,"type":"quantitative","axis":null}}},
{"data":{"name":"ind"},"mark":{"type":"line","color":"#f7c55a","strokeWidth":1,"clip":true,"interpolate":"monotone"},
 "encoding":{"x":{"field":"t","type":"temporal"},"y":{"field":"rm","type":"quantitative","axis":null}}},
{"data":{"name":"ind"},"mark":{"type":"line","color":"#7e57c2","strokeWidth":1,"clip":true},
 "encoding":{"x":{"field":"t","type":"temporal"},"y":{"field":"r","type":"quantitative","axis":null}}},
{"data":{"values":[{}]},"mark":{"type":"text","text":"RSI (14, close)","align":"left","baseline":"middle","fontSize":9.4,"color":"#131722"},
 "encoding":{"x":{"datum":{"year":2024,"month":5,"date":4,"hours":10},"type":"temporal"},"y":{"datum":70,"type":"quantitative","axis":null}}},
{"data":{"values":[{}]},"mark":{"type":"text","text":"77.80","align":"left","baseline":"middle","fontSize":9.4,"color":"#7e57c2"},
 "encoding":{"x":{"datum":{"year":2024,"month":6,"date":6,"hours":7},"type":"temporal"},"y":{"datum":70,"type":"quantitative","axis":null}}},
{"data":{"values":[{}]},"mark":{"type":"text","text":"78.23","align":"left","baseline":"middle","fontSize":9.4,"color":"#f2c94c"},
 "encoding":{"x":{"datum":{"year":2024,"month":6,"date":20,"hours":22},"type":"temporal"},"y":{"datum":70,"type":"quantitative","axis":null}}},
{"data":{"values":[{}]},"mark":{"type":"point","shape":"M-1,-0.382L1,-0.382L1,0.382L-1,0.382Z","filled":true,"size":1156,"color":"#7e57c2","opacity":1},
 "encoding":{"x":{"datum":{"year":2025,"month":8,"date":22,"hours":12},"type":"temporal"},"y":{"datum":77.8,"type":"quantitative","axis":null}}},
{"data":{"values":[{}]},"mark":{"type":"text","text":"77.80","align":"center","baseline":"middle","fontSize":11,"color":"#ffffff"},
 "encoding":{"x":{"datum":{"year":2025,"month":8,"date":22,"hours":12},"type":"temporal"},"y":{"datum":77.8,"type":"quantitative","axis":null}}},
{"data":{"values":[{}]},"mark":{"type":"text","text":"50.00","align":"left","baseline":"middle","fontSize":11,"color":"#131722"},
 "encoding":{"x":{"datum":{"year":2025,"month":8,"date":16,"hours":12},"type":"temporal"},"y":{"datum":50,"type":"quantitative","axis":null}}}
]
}
]
}
